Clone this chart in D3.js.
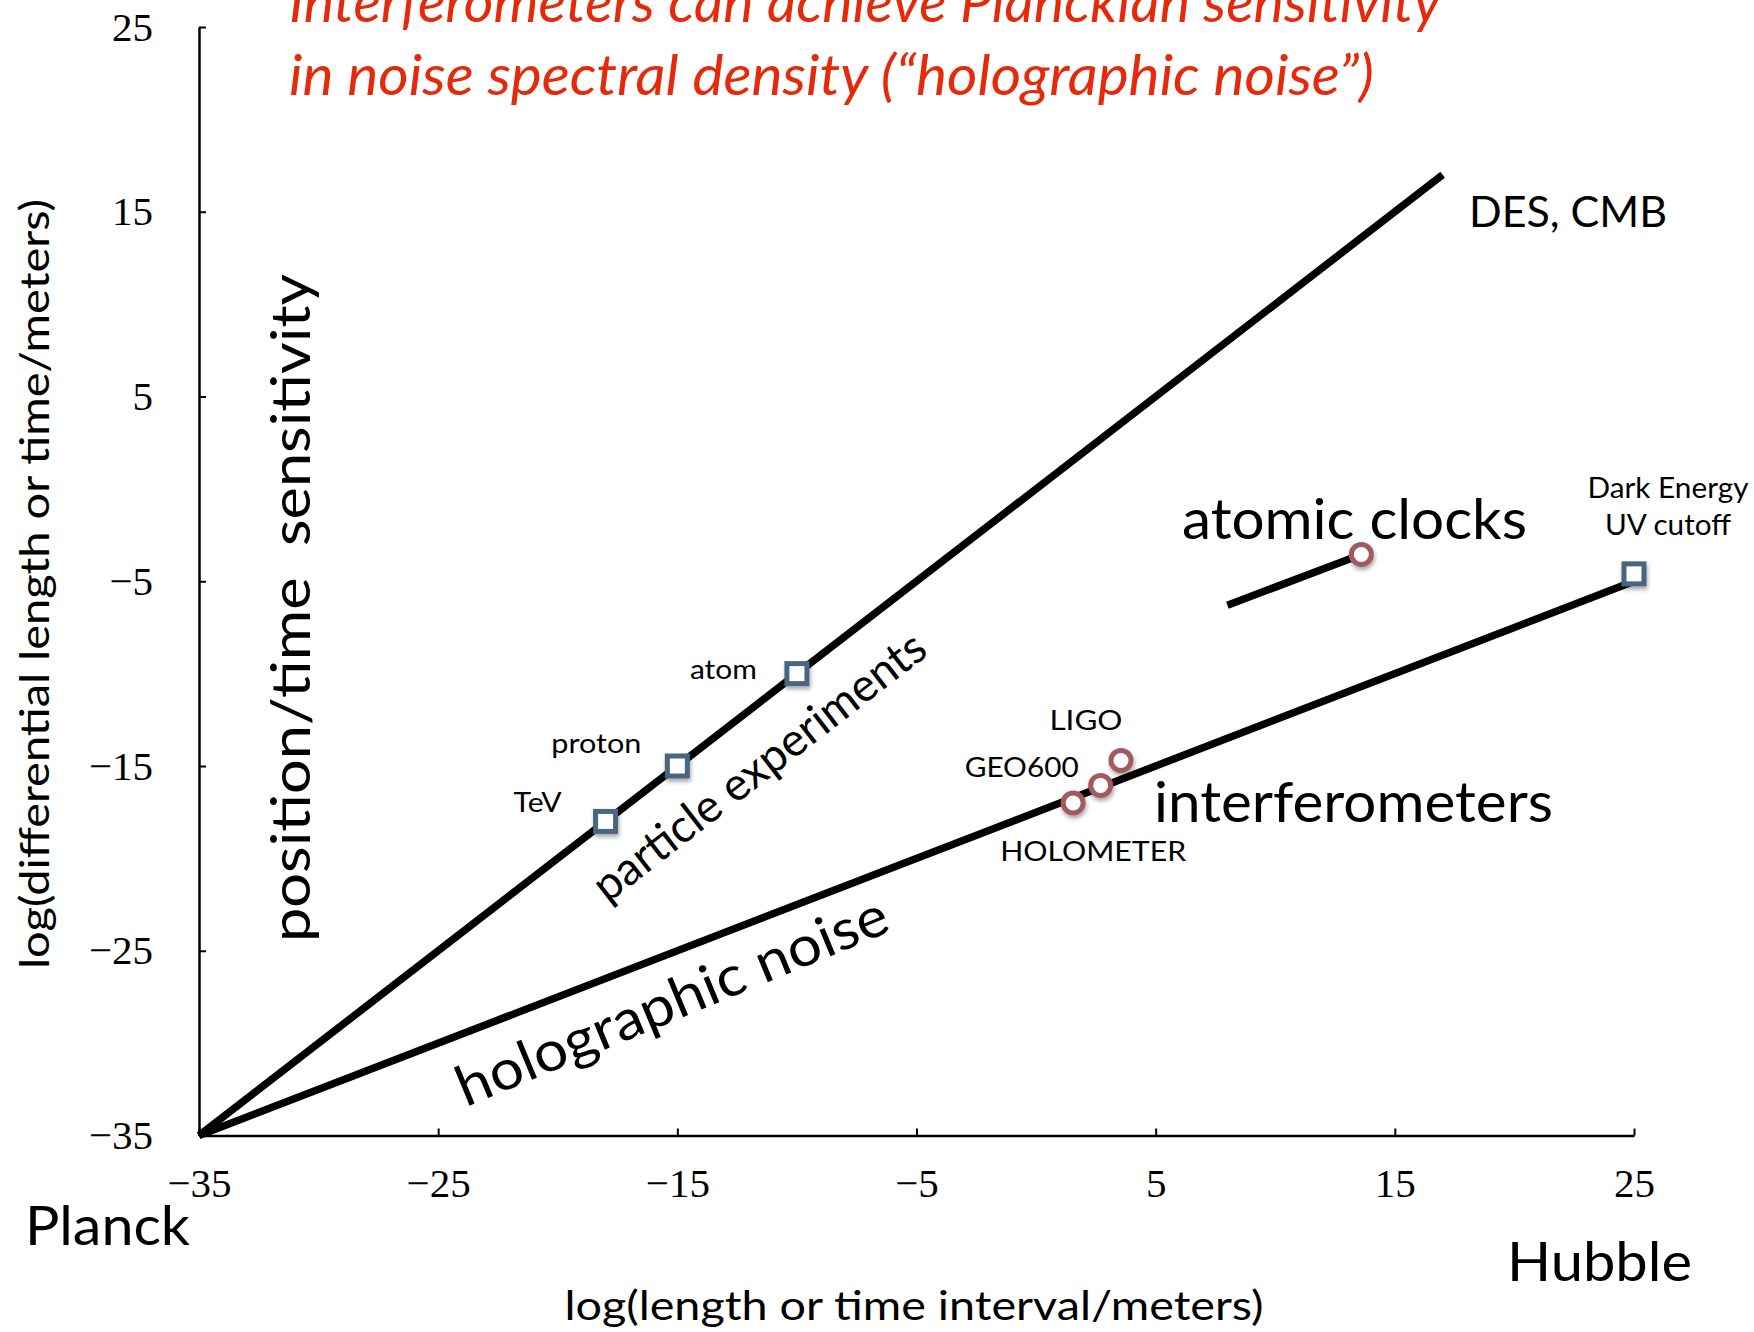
<!DOCTYPE html>
<html>
<head>
<meta charset="utf-8">
<script src="https://cdn.jsdelivr.net/npm/d3@7"></script>
<style>
  html, body { margin: 0; padding: 0; background: #fff; }
  svg { display: block; }
  .tick text { font-family: "Liberation Serif", "DejaVu Serif", serif; }
  .sans { font-family: Lato, "Open Sans", "Noto Sans", sans-serif; }
</style>
</head>
<body>
<svg id="chart" width="1754" height="1332"></svg>
<script>
// Axis ticks (log10 of metres)
const xTicks = [-35, -25, -15, -5, 5, 15, 25];
const yTicks = [-35, -25, -15, -5, 5, 15, 25];

// Sensitivity lines: slope 1 (particle experiments), slope 1/2 (holographic noise)
const particleLine = [[-35, -35], [17, 17]];
const holographicLine = [[-35, -35], [25, -5]];
const clockLine = [[8, -6.3], [13.6, -3.55]];

// Experiments: squares sit on the particle/Hubble scale, circles are measurements
const squarePoints = [
  { name: "TeV", x: -18, y: -18 },
  { name: "proton", x: -15, y: -15 },
  { name: "atom", x: -10, y: -10 },
  { name: "Dark Energy|UV cutoff", x: 25, y: -4.6 }
];
const circlePoints = [
  { name: "HOLOMETER", x: 1.55, y: -17.0 },
  { name: "GEO600", x: 2.7, y: -16.05 },
  { name: "LIGO", x: 3.55, y: -14.7 },
  { name: "atomic clock", x: 13.6, y: -3.55 }
];

const titleLines = [
  "Interferometers can achieve Planckian sensitivity",
  "in noise spectral density (\u201Cholographic noise\u201D)"
];

const svg = d3.select("#chart");

const x = d3.scaleLinear().domain([-35, 25]).range([199, 1634]);
const y = d3.scaleLinear().domain([-35, 25]).range([1135.5, 27]);

const fmt = d => (d < 0 ? "\u2212" + Math.abs(d) : String(d));

// drop shadow used by the experiment markers
const defs = svg.append("defs");
const shadow = defs.append("filter").attr("id", "markShadow")
  .attr("x", "-50%").attr("y", "-50%").attr("width", "200%").attr("height", "200%");
shadow.append("feDropShadow").attr("dx", 1).attr("dy", 3)
  .attr("stdDeviation", 2).attr("flood-color", "#000").attr("flood-opacity", 0.35);

// axes with inward ticks
const xAxis = svg.append("g")
  .attr("transform", `translate(0,${y(-35)})`)
  .call(d3.axisBottom(x).tickValues(xTicks).tickFormat(fmt)
    .tickSizeInner(-7).tickSizeOuter(0).tickPadding(32));
const yAxis = svg.append("g")
  .attr("transform", `translate(${x(-35)},0)`)
  .call(d3.axisLeft(y).tickValues(yTicks).tickFormat(fmt)
    .tickSizeInner(-7).tickSizeOuter(0).tickPadding(46));

[xAxis, yAxis].forEach(g => {
  g.select(".domain").attr("stroke", "#000").attr("stroke-width", 2.5);
  g.selectAll(".tick line").attr("stroke", "#000").attr("stroke-width", 2);
  g.selectAll(".tick text").attr("fill", "#000").attr("font-size", 41);
});

// sensitivity lines
const line = d3.line().x(d => x(d[0])).y(d => y(d[1]));
[particleLine, holographicLine, clockLine].forEach(pts => {
  svg.append("path").attr("d", line(pts))
    .attr("fill", "none").attr("stroke", "#000").attr("stroke-width", 7.5);
});

// markers
const squareSide = 20;
svg.append("g").selectAll("rect").data(squarePoints).join("rect")
  .attr("x", d => x(d.x) - squareSide / 2)
  .attr("y", d => y(d.y) - squareSide / 2)
  .attr("width", squareSide).attr("height", squareSide)
  .attr("fill", "#fff").attr("stroke", "#4a6680").attr("stroke-width", 5)
  .attr("filter", "url(#markShadow)");

svg.append("g").selectAll("circle").data(circlePoints).join("circle")
  .attr("cx", d => x(d.x)).attr("cy", d => y(d.y)).attr("r", 10)
  .attr("fill", "#fff").attr("stroke", "#a35a5e").attr("stroke-width", 5)
  .attr("filter", "url(#markShadow)");

// text helper: optional fitted width
function label(txt, px, py, opts = {}) {
  const t = svg.append("text").attr("class", "sans")
    .attr("x", px).attr("y", py)
    .attr("font-size", opts.size || 27)
    .attr("fill", opts.fill || "#000")
    .attr("text-anchor", opts.anchor || "start")
    .text(txt);
  if (opts.italic) t.attr("font-style", "italic");
  if (opts.len) t.attr("textLength", opts.len).attr("lengthAdjust", "spacingAndGlyphs");
  if (opts.rotate !== undefined) t.attr("transform", `rotate(${opts.rotate},${px},${py})`);
  if (opts.baseline) t.attr("dominant-baseline", opts.baseline);
  return t;
}

// marker labels, offset from each marker in pixels
const labelOffsets = {
  "TeV": { dx: -44, dy: -9, anchor: "end", len: 48 },
  "proton": { dx: -36, dy: -13, anchor: "end", len: 90 },
  "atom": { dx: -40, dy: 5, anchor: "end", len: 67 },
  "HOLOMETER": { dx: -73, dy: 58, anchor: "start", len: 186 },
  "GEO600": { dx: -22, dy: -8, anchor: "end", len: 114 },
  "LIGO": { dx: -35, dy: -30, anchor: "middle", len: 73 }
};
[...squarePoints, ...circlePoints].forEach(p => {
  const o = labelOffsets[p.name];
  if (!o) return;
  label(p.name, x(p.x) + o.dx, y(p.y) + o.dy, { size: 27, anchor: o.anchor, len: o.len });
});
// two-line label for the dark energy scale
const de = squarePoints.find(p => p.name.startsWith("Dark"));
const deLens = [161, 126];
de.name.split("|").forEach((s, i) => {
  label(s, x(de.x) + 34, y(de.y) - 76 + i * 37, { size: 28, anchor: "middle", len: deLens[i] });
});

// region labels
label("DES, CMB", 1469, 227, { size: 43, len: 198 });
label("atomic clocks", 1182, 539, { size: 56, len: 345 });
label("interferometers", 1154, 822, { size: 56, len: 399 });
label("particle experiments", 758, 765, { size: 46, anchor: "middle", len: 408, rotate: -37.8, baseline: "central" });
label("holographic noise", 671, 999, { size: 56, anchor: "middle", len: 462, rotate: -22.5, baseline: "central" });
label("position/time\u00A0\u00A0sensitivity", 289, 608, { size: 54, anchor: "middle", len: 668, rotate: -90, baseline: "central" });

// axis titles and scale endpoints
label("log(differential length or time/meters)", 34, 584, { size: 40, anchor: "middle", len: 770, rotate: -90, baseline: "central" });
label("log(length or time interval/meters)", 914, 1320, { size: 40, anchor: "middle", len: 699 });
label("Planck", 25, 1245, { size: 54, len: 165 });
label("Hubble", 1507, 1281, { size: 54, len: 185 });

// headline
titleLines.forEach((s, i) => {
  label(s, 289, 22 + i * 73, { size: 57, italic: true, fill: "#e5290b", len: i === 0 ? 1152 : 1085 });
});
</script>
</body>
</html>
